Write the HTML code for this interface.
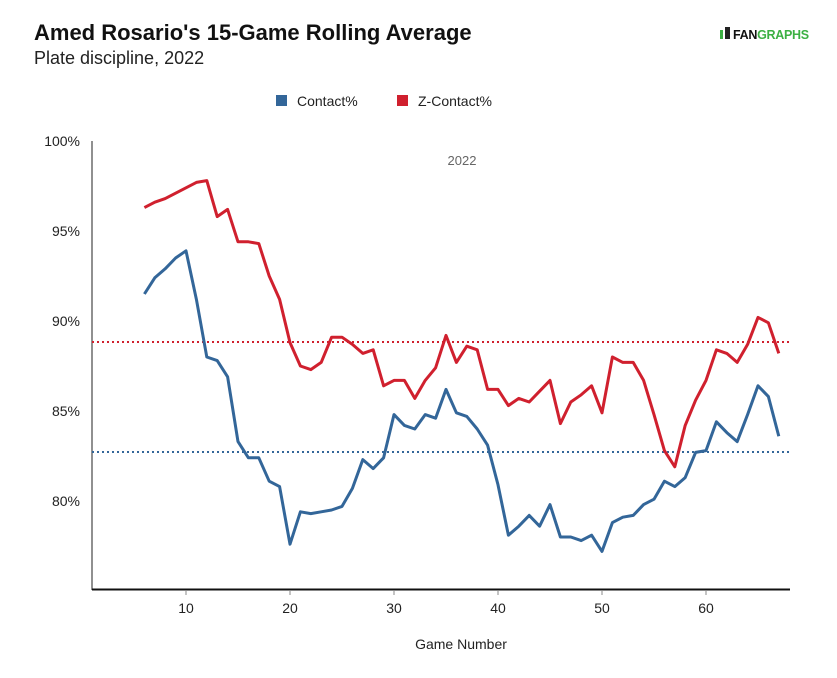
<!DOCTYPE html>
<html><head><meta charset="utf-8"><style>
body{margin:0;background:#fff;font-family:"Liberation Sans",sans-serif;}
svg text{font-family:"Liberation Sans",sans-serif;}
</style></head><body>
<svg width="837" height="673" viewBox="0 0 837 673">
<rect width="837" height="673" fill="#fff"/>
<text x="34" y="40" font-size="22" font-weight="bold" fill="#111">Amed Rosario's 15-Game Rolling Average</text>
<text x="34" y="64" font-size="18" fill="#222">Plate discipline, 2022</text>
<g>
<rect x="720" y="30" width="3" height="9" fill="#3cb043"/>
<rect x="725" y="27" width="5" height="12" fill="#222"/>
<text x="733" y="39" font-size="12.5" font-weight="bold" fill="#111" letter-spacing="-0.3">FAN<tspan fill="#3cb043">GRAPHS</tspan></text>
</g>
<g>
<rect x="276" y="95" width="11" height="11" fill="#336699"/>
<text x="297" y="106" font-size="14" fill="#222">Contact%</text>
<rect x="397" y="95" width="11" height="11" fill="#d0202e"/>
<text x="418" y="106" font-size="14" fill="#222">Z-Contact%</text>
</g>
<text x="462" y="165" font-size="13" fill="#666" text-anchor="middle">2022</text>
<g id="axes"></g>
<g id="marks"></g>
<text x="461" y="649" font-size="14" fill="#222" text-anchor="middle">Game Number</text>
</svg>
<script>
const games = [];
for (let g = 6; g <= 67; g++) games.push(g);
const contact = [91.5,92.4,92.9,93.5,93.9,91.2,88.0,87.8,86.9,83.3,82.4,82.4,81.1,80.8,77.6,79.4,79.3,79.4,79.5,79.7,80.7,82.3,81.8,82.4,84.8,84.2,84.0,84.8,84.6,86.2,84.9,84.7,84.0,83.1,80.9,78.1,78.6,79.2,78.6,79.8,78.0,78.0,77.8,78.1,77.2,78.8,79.1,79.2,79.8,80.1,81.1,80.8,81.3,82.7,82.8,84.4,83.8,83.3,84.8,86.4,85.8,83.6];
const zContact = [96.3,96.6,96.8,97.1,97.4,97.7,97.8,95.8,96.2,94.4,94.4,94.3,92.5,91.2,88.8,87.5,87.3,87.7,89.1,89.1,88.7,88.2,88.4,86.4,86.7,86.7,85.7,86.7,87.4,89.2,87.7,88.6,88.4,86.2,86.2,85.3,85.7,85.5,86.1,86.7,84.3,85.5,85.9,86.4,84.9,88.0,87.7,87.7,86.7,84.8,82.8,81.9,84.2,85.6,86.7,88.4,88.2,87.7,88.7,90.2,89.9,88.2];
const contactAvg = 82.72;
const zContactAvg = 88.83;
const yTicks = [80,85,90,95,100];
const xTicks = [10,20,30,40,50,60];

const NS = "http://www.w3.org/2000/svg";
const xs = g => 82 + g * 10.4;
const ys = v => 141 + (100 - v) * 18;
const axes = document.getElementById('axes');
const marks = document.getElementById('marks');
function mk(tag, attrs, parent) {
  const e = document.createElementNS(NS, tag);
  for (const k in attrs) e.setAttribute(k, attrs[k]);
  parent.appendChild(e);
  return e;
}
const yl = mk('line', {x1:92,y1:141,x2:92,y2:590,stroke:'#222','stroke-width':1}, axes);


const xl = mk('line', {x1:92,y1:589.5,x2:790,y2:589.5,stroke:'#111','stroke-width':2}, axes);


yTicks.forEach(t => {
  const tx = mk('text', {x:80,y:ys(t)+5,'font-size':14,fill:'#222','text-anchor':'end'}, axes);
  tx.textContent = t + '%';
  
  
});
xTicks.forEach(t => {
  const tk = mk('line', {x1:xs(t),y1:590,x2:xs(t),y2:595,stroke:'#888','stroke-width':1}, axes);
  
  
  const tx = mk('text', {x:xs(t),y:613,'font-size':14,fill:'#222','text-anchor':'middle'}, axes);
  tx.textContent = t;
  
  
});
const ra = mk('line', {x1:92,y1:ys(zContactAvg),x2:790,y2:ys(zContactAvg),stroke:'#d0202e','stroke-width':2,'stroke-dasharray':'2,3'}, marks);


const ba = mk('line', {x1:92,y1:ys(contactAvg),x2:790,y2:ys(contactAvg),stroke:'#336699','stroke-width':2,'stroke-dasharray':'2,3'}, marks);


function series(vals, color, name) {
  const d = vals.map((v,i) => (i?'L':'M') + xs(games[i]).toFixed(1) + ',' + ys(v).toFixed(1)).join(' ');
  const p = mk('path', {d:d,fill:'none',stroke:color,'stroke-width':3,'stroke-linejoin':'round'}, marks);
  
  
}
series(contact, '#336699', 'contact-line');
series(zContact, '#d0202e', 'zcontact-line');
</script>
</body></html>
